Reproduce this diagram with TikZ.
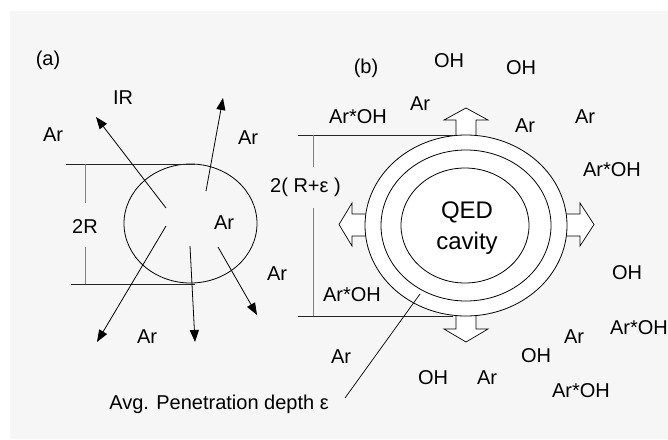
\documentclass[tikz,border=0pt]{standalone}
\usepackage{fontspec}
\setmainfont{Liberation Sans}
\usepackage{tikz}
\usetikzlibrary{arrows.meta,positioning,calc}

\definecolor{bggray}{HTML}{F6F6F6}
\tikzset{
  lbl/.style={font=\fontsize{20}{24}\selectfont,inner sep=0pt},
  biglbl/.style={font=\fontsize{24}{31}\selectfont,inner sep=0pt,align=center},
  dimline/.style={line width=0.8pt,black!85},
  dimbar/.style={line width=1pt,black!50},
  blockarrow/.style={line width=0.7pt,fill=white,line join=miter}
}

\begin{document}
\begin{tikzpicture}[x=1pt,y=-1pt,>={Triangle[length=12pt,width=9pt]}]
  \useasboundingbox (0,0) rectangle (668,439);
  \fill[bggray] (10,11) rectangle (668,439);

  % (a) the bare particle
  \draw[line width=0.8pt] (190.5,223.5) ellipse (66.5 and 59.5);
  \coordinate (aTopL) at (66,164);  \coordinate (aTopR) at (195,164);
  \coordinate (aBotL) at (71,284);  \coordinate (aBotR) at (195,284);
  \draw[dimline] (aTopL) -- (aTopR);
  \draw[dimline] (aBotL) -- (aBotR);
  \node[lbl] (twoR) at (85,227) {2R};
  \draw[dimbar] (85,164) -- (85,203);
  \draw[dimbar] (85,247) -- (85,284);
  \foreach \sx/\sy/\ex/\ey/\nm in {166/208/96/117/ir,206/191/223/98/up,
      166/226/97/342/ll,190/246/195/342/dn,218/247/257/315/lr}
     {\coordinate (\nm-s) at (\sx,\sy); \coordinate (\nm-e) at (\ex,\ey);
      \draw[->,line width=0.8pt] (\nm-s) -- (\nm-e);}

  % (b) the cavity with its shells
  \coordinate (bTopL) at (298,135); \coordinate (bTopR) at (457,135);
  \coordinate (bBotL) at (298,316); \coordinate (bBotR) at (453,316);
  \draw[dimline] (bTopL) -- (bTopR);
  \draw[dimline] (bBotL) -- (bBotR);
  \node[lbl] (twoRe) at (305.5,187) {2( R+ε )};
  \draw[dimbar] (313,135) -- (313,167);
  \draw[dimbar] (313,208) -- (313,316);
  % block arrows
  \draw[blockarrow] (456,140) -- (456,120) -- (444,120) -- (466,108) -- (488,120) -- (476,120) -- (476,140);
  \draw[blockarrow] (456,310) -- (456,329) -- (444,329) -- (466,342) -- (488,329) -- (476,329) -- (476,310);
  \draw[blockarrow] (560,214) -- (580,214) -- (580,203) -- (594,224.5) -- (580,246) -- (580,236) -- (560,236);
  \draw[blockarrow] (372,214) -- (352,214) -- (352,203) -- (339,224.5) -- (352,246) -- (352,236) -- (372,236);
  \draw[line width=0.8pt,fill=white] (466,225.5) ellipse (101 and 90.5);
  \draw[line width=0.8pt,fill=white] (466,225.5) ellipse (85 and 75.5);
  \draw[line width=0.8pt,fill=white] (465,225.5) ellipse (64 and 57.5);
  \node[biglbl] (qed) at (467,228) {QED\\cavity};
  \node[lbl] (avg) at (219,404) {Avg. Penetration depth ε};
  \coordinate (ring) at (420,294);
  \coordinate (lead) at (345,398);
  \draw[line width=0.7pt] (ring) -- (lead);

  % labels
  \foreach \x/\y/\lab/\nm in {48/60/(a)/la,123/98/IR/irlbl,53/135/Ar/a1,248/138/Ar/a2,
      224/223/Ar/a3,277/274/Ar/a4,147/337/Ar/a5,
      366/68/(b)/lb,449/61/OH/o1,521/68/OH/o2,420/104/Ar/b1,
      358/117/Ar*OH/c1,525/126/Ar/b2,585/117/Ar/b3,612/170/Ar*OH/c2,
      352/295/Ar*OH/c3,627/273/OH/o3,639/328/Ar*OH/c4,574/337/Ar/b4,
      536/356/OH/o4,341/357/Ar/b5,433/378/OH/o5,487/378/Ar/b6,
      581/391/Ar*OH/c5}
     {\node[lbl] (\nm) at (\x,\y) {\lab};}
\end{tikzpicture}
\end{document}
